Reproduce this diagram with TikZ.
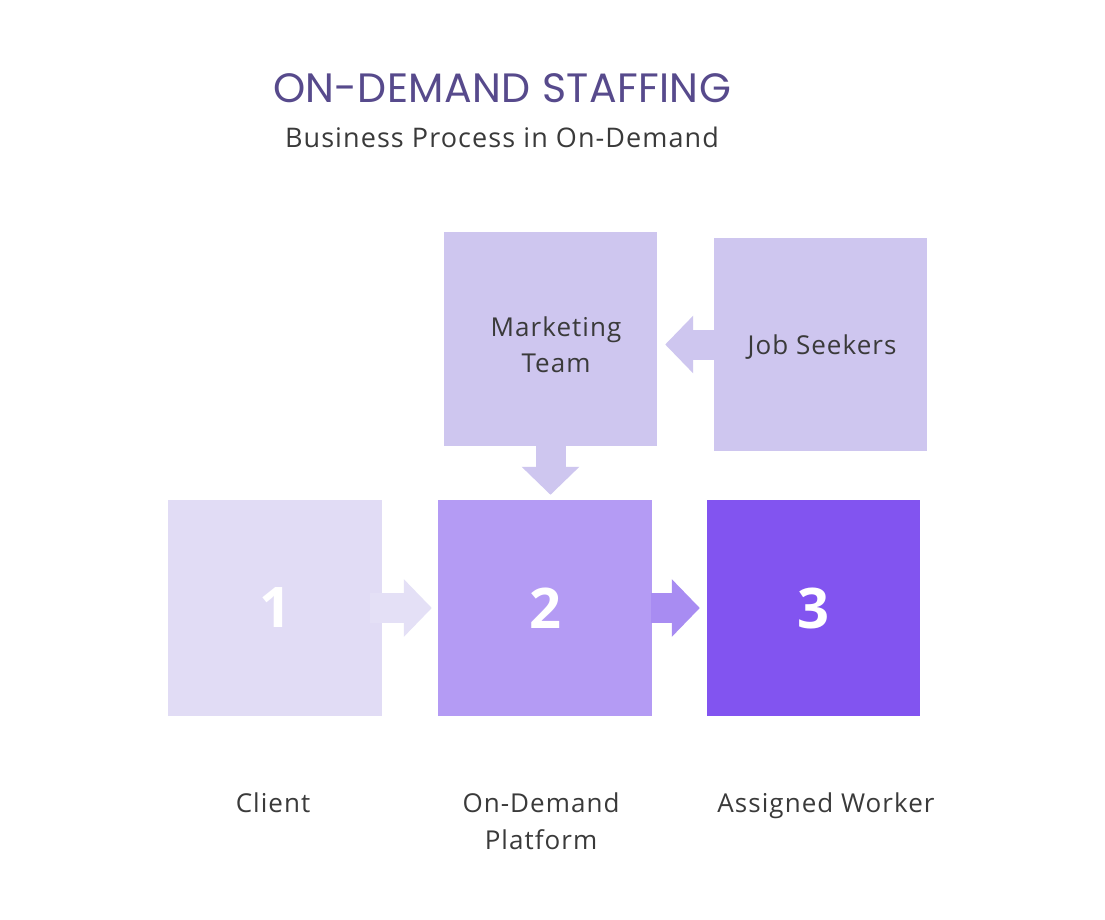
\documentclass[tikz,border=0pt]{standalone}
\usepackage{fontspec}
\setmainfont{Open Sans}[LetterSpace=4]
\newfontfamily\titlefont{Poppins}[LetterSpace=1]
\usetikzlibrary{arrows.meta}
\definecolor{boxA}{HTML}{E1DCF5}
\definecolor{boxB}{HTML}{B49BF4}
\definecolor{boxC}{HTML}{8254F0}
\definecolor{boxT}{HTML}{CEC6EF}
\definecolor{arrA}{HTML}{E4E0F6}
\definecolor{arrB}{HTML}{A88CF2}
\definecolor{titlecol}{HTML}{574A8C}
\definecolor{txt}{HTML}{3A3A3A}
\tikzset{
  sq/.style={draw=none, minimum width=213pt, minimum height=214pt, inner sep=0pt},
  num/.style={sq, text=white, font=\fontsize{56}{60}\selectfont\bfseries},
  topbox/.style={sq, fill=boxT},
  boxtext/.style={text=txt, align=center, font=\fontsize{26}{36}\selectfont},
  lbl/.style={text=txt, align=center, anchor=north, font=\fontsize{26}{37}\selectfont},
  blockarrow/.style={line width=30pt, -{Triangle[length=28pt,width=56pt]}},
}
\begin{document}
\begin{tikzpicture}[x=1pt,y=-1pt]
\fill[white] (0,0) rectangle (1105,920);
\useasboundingbox (0,0) rectangle (1105,920);
\node[text=titlecol, font=\titlefont\fontsize{41}{46}\selectfont] (title) at (502,88) {ON-DEMAND STAFFING};
\node[text=txt, font=\fontsize{27}{32}\selectfont] (sub) at (502,137) {Business Process in On-Demand};
% boxes
\node[num, fill=boxA, minimum width=214pt, minimum height=216pt] (c1) at (275,608) {1};
\node[num, fill=boxB, minimum width=214pt, minimum height=216pt] (c2) at (545,608) {2};
\node[num, fill=boxC, minimum height=216pt] (c3) at (813.5,608) {3};
\node[topbox] (m) at (550.5,339) {};
\node[boxtext] (mt) at (556,345) {Marketing\\Team};
\node[topbox, minimum height=213pt] (j) at (820.5,344.5) {};
\node[boxtext] (jt) at (822,347) {Job Seekers};
% arrows
\draw[blockarrow, draw=arrA] ([xshift=-12pt]c1.east) -- ([xshift=-6pt]c2.west);
\draw[blockarrow, draw=arrB] ([xshift=-1pt]c2.east) -- ([xshift=-7pt]c3.west);
\coordinate (mtip) at ([yshift=5pt]m.south |- c2.north);
\draw[blockarrow, draw=boxT] ([yshift=1pt]m.south) -- (mtip);
\coordinate (jtip) at ([xshift=8pt]m.east |- j.west);
\draw[blockarrow, draw=boxT] ([xshift=1pt]j.west) -- (jtip);
% labels
\node[lbl] (l1) at (273,789) {Client};
\node[lbl] (l2) at (541,789) {On-Demand\\Platform};
\node[lbl] (l3) at (826,789) {Assigned Worker};
\end{tikzpicture}
\end{document}
